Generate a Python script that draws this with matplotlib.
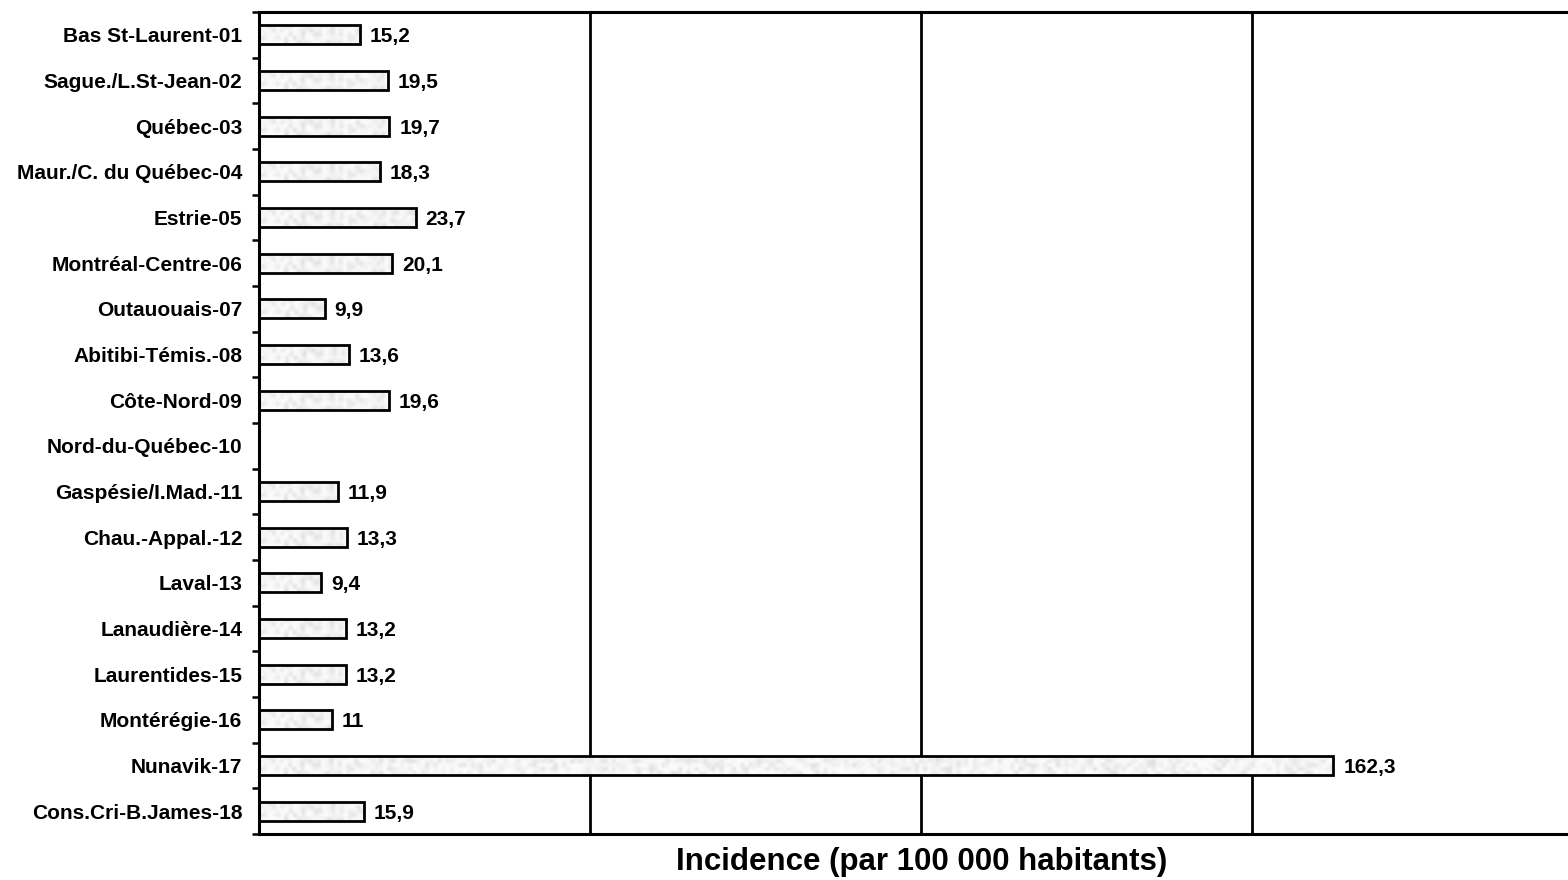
import numpy as np
import matplotlib
matplotlib.use("Agg")
import matplotlib.pyplot as plt

regions = [
    "Bas St-Laurent-01", "Sague./L.St-Jean-02", "Québec-03",
    "Maur./C. du Québec-04", "Estrie-05", "Montréal-Centre-06",
    "Outauouais-07", "Abitibi-Témis.-08", "Côte-Nord-09",
    "Nord-du-Québec-10", "Gaspésie/I.Mad.-11", "Chau.-Appal.-12",
    "Laval-13", "Lanaudière-14", "Laurentides-15", "Montérégie-16",
    "Nunavik-17", "Cons.Cri-B.James-18",
]
incidence = [15.2, 19.5, 19.7, 18.3, 23.7, 20.1, 9.9, 13.6, 19.6,
             None, 11.9, 13.3, 9.4, 13.2, 13.2, 11.0, 162.3, 15.9]
grid_values = [50, 100, 150]

plt.rcParams['font.family'] = ['Liberation Sans', 'DejaVu Sans']

W, H = 1568, 880
fig = plt.figure(figsize=(W / 100, H / 100), dpi=100)
ax = fig.add_axes([259 / W, 1 - 834 / H, (1583 - 259) / W, (834 - 12) / H])

n = len(regions)
ypos = np.arange(n)
vals = np.array([np.nan if v is None else v for v in incidence])
has = ~np.isnan(vals)

bar_h = 0.42
bars = ax.barh(ypos[has], vals[has], height=bar_h, color='#f2f2f2',
               edgecolor='none', zorder=2)

# light speckled grey fill inside each bar
ii, jj = np.mgrid[0:5, 0:400]
tex = (np.sin(ii * 12.9898 + jj * 78.233) * 43758.5453) % 1.0
tex = 0.985 - 0.11 * tex ** 2
for b in bars:
    x0, y0 = b.get_x(), b.get_y()
    w, h = b.get_width(), b.get_height()
    cols = max(2, int(w * 1.6))
    im = ax.imshow(tex[:, :cols], cmap='gray', vmin=0, vmax=1,
                   extent=(x0, x0 + w, y0, y0 + h), aspect='auto',
                   interpolation='bilinear', zorder=2.5)
    im.set_clip_path(b)

ax.barh(ypos[has], vals[has], height=bar_h, facecolor='none',
        edgecolor='black', linewidth=2.0, zorder=3)

for y, v in zip(ypos, incidence):
    if v is None:
        continue
    txt = f"{v:g}".replace('.', ',')
    ax.annotate(txt, (v, y), xytext=(7, -1.5), textcoords='offset points',
                ha='left', va='center', fontsize=15, fontweight='bold',
                zorder=4)

for g in grid_values:
    ax.axvline(g, color='black', linewidth=2.0, zorder=1)

ax.set_xlim(0, 200)
ax.set_ylim(n - 0.5, -0.5)

ax.set_yticks(ypos)
ax.set_yticklabels(regions, fontsize=15, fontweight='bold')
ax.tick_params(axis='y', which='major', length=0, pad=12)
ax.set_yticks(np.arange(-0.5, n, 1.0), minor=True)
ax.tick_params(axis='y', which='minor', length=5, width=1.8, direction='out')
ax.set_xticks([])

for side in ('left', 'top', 'bottom'):
    ax.spines[side].set_linewidth(2.2)
ax.spines['right'].set_visible(False)

fig.text(922 / W, 1 - 862 / H, "Incidence (par 100 000 habitants)",
         ha='center', va='center', fontsize=22.5, fontweight='bold')

fig.savefig("out.png", dpi=100)
